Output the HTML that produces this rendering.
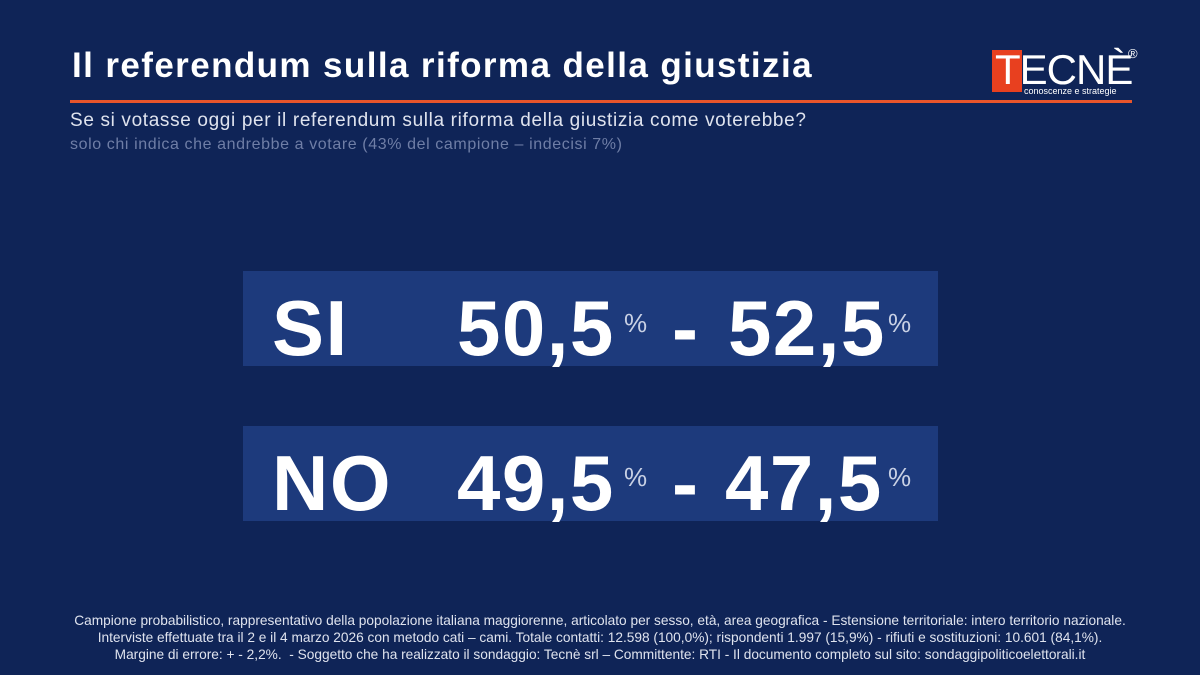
<!DOCTYPE html>
<html><head><meta charset="utf-8"><style>
*{margin:0;padding:0}
body{width:1200px;height:675px;background:#0f2457;position:relative;overflow:hidden;font-family:"Liberation Sans",sans-serif;color:#fff}
.a{position:absolute;white-space:nowrap}
.box{position:absolute;left:243px;width:695px;height:95px;background:#1d3a7c}
.big{position:absolute;font-weight:bold;font-size:78px;line-height:1;letter-spacing:1.5px}
.pct{position:absolute;font-size:26px;color:#c8d0e4;line-height:1}
</style></head><body>
<div class="a" style="left:72px;top:46px;font-size:35px;font-weight:bold;letter-spacing:1.4px">Il referendum sulla riforma della giustizia</div>
<div class="a" style="left:70px;top:100px;width:1062px;height:3px;background:#e8552b"></div>
<div class="a" style="left:70px;top:110px;font-size:19px;letter-spacing:0.65px;color:#dfe3ee">Se si votasse oggi per il referendum sulla riforma della giustizia come voterebbe?</div>
<div class="a" style="left:70px;top:136px;font-size:16px;letter-spacing:0.6px;color:#6f7ea6">solo chi indica che andrebbe a votare (43% del campione – indecisi 7%)</div>
<div class="a" style="left:992px;top:50px;width:30px;height:42px;background:#e8401f"></div>
<div class="a" style="left:995px;top:46px;font-size:42px;letter-spacing:-1px">TECNÈ</div>
<div class="a" style="left:1128px;top:46px;font-size:13px">®</div>
<div class="a" style="left:1024px;top:86px;font-size:9px">conoscenze e strategie</div>
<div class="box" style="top:271px"></div>
<div class="box" style="top:426px"></div>
<div class="big" style="left:272px;top:289px">SI</div>
<div class="big" style="left:457px;top:289px">50,5</div>
<div class="pct" style="left:624px;top:310px">%</div>
<div class="big" style="left:672px;top:289px">-</div>
<div class="big" style="left:728px;top:289px">52,5</div>
<div class="pct" style="left:888px;top:310px">%</div>
<div class="big" style="left:272px;top:444px">NO</div>
<div class="big" style="left:457px;top:444px">49,5</div>
<div class="pct" style="left:624px;top:464px">%</div>
<div class="big" style="left:672px;top:444px">-</div>
<div class="big" style="left:725px;top:444px">47,5</div>
<div class="pct" style="left:888px;top:464px">%</div>
<div class="a" style="left:0;width:1200px;top:612px;text-align:center;font-size:13.7px;line-height:17px;color:#dfe3ee">Campione probabilistico, rappresentativo della popolazione italiana maggiorenne, articolato per sesso, età, area geografica - Estensione territoriale: intero territorio nazionale.<br>Interviste effettuate tra il 2 e il 4 marzo 2026 con metodo cati – cami. Totale contatti: 12.598 (100,0%); rispondenti 1.997 (15,9%) - rifiuti e sostituzioni: 10.601 (84,1%).<br>Margine di errore: + - 2,2%.&nbsp; - Soggetto che ha realizzato il sondaggio: Tecnè srl – Committente: RTI - Il documento completo sul sito: sondaggipoliticoelettorali.it</div>
</body></html>
